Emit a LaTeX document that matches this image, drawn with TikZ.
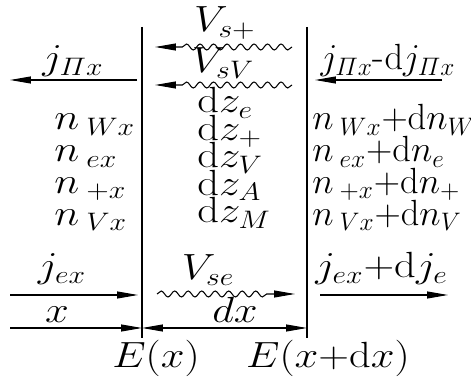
\documentclass[tikz,border=0pt]{standalone}
\usepackage{amsmath}
\usepackage{graphicx}
\usetikzlibrary{arrows.meta,positioning,decorations.pathmorphing}
\DeclareMathSizes{22}{22}{14}{11}
\newcommand{\wideit}[1]{\scalebox{1.17}[1]{#1}}

\begin{document}
\begin{tikzpicture}[
    x=0.02cm, y=-0.02cm,
    font=\fontsize{22}{27}\selectfont,
    lbl/.style={inner sep=0pt, anchor=base},
    colitem/.style={inner sep=0pt, anchor=base west},
    arrow/.style={-{Triangle[length=4.2mm,width=1.4mm]}, semithick},
    wavy/.style={
      arrow,
      decorate,
      decoration={snake, segment length=2.7mm, amplitude=0.6mm, post length=4.4mm}
    },
    frame/.style={semithick}
  ]
    \useasboundingbox (0,0) rectangle (471,378);

    % the two cuts
    \coordinate (lt) at (142,27);
    \coordinate (lb) at (142,338);
    \coordinate (rt) at (307,27);
    \coordinate (rb) at (307,338);
    \draw[frame] (lt) -- (lb);
    \draw[frame] (rt) -- (rb);

    % top fluxes
    \node[lbl] (jpi) at (73,70) {\wideit{$j_{\varPi x}$}};
    \node[lbl] (jpidj) at (388,70) {$j_{\varPi x}\text{-}\mathrm{d}j_{\varPi x}$};
    \node[lbl] (vsp) at (225,32) {\wideit{$V_{s+}$}};
    \node[lbl] (vsv) at (223,73) {\wideit{$V_{sV}$}};

    \coordinate (jpiA) at (137,80);
    \coordinate (jpiB) at (10,80);
    \coordinate (jpidjA) at (442,80);
    \coordinate (jpidjB) at (315,80);
    \coordinate (vspA) at (292,47);
    \coordinate (vspB) at (155,47);
    \coordinate (vsvA) at (292,85);
    \coordinate (vsvB) at (155,85);

    \draw[arrow] (jpiA) -- (jpiB);
    \draw[arrow] (jpidjA) -- (jpidjB);
    \draw[wavy] (vspA) -- (vspB);
    \draw[wavy] (vsvA) -- (vsvB);

    % densities
    \node[colitem] (nw) at (54,130) {\wideit{$n\,{}_{Wx}$}};
    \node[colitem, below=0.634cm of nw.base west, anchor=base west] (ne) {\wideit{$n\,{}_{ex}$}};
    \node[colitem, below=0.634cm of ne.base west, anchor=base west] (np) {\wideit{$n\,{}_{+x}$}};
    \node[colitem, below=0.634cm of np.base west, anchor=base west] (nv) {\wideit{$n\,{}_{Vx}$}};

    \node[colitem] (dze) at (197,113) {\wideit{$\mathrm{d}z_e$}};
    \node[colitem, below=0.55cm of dze.base west, anchor=base west] (dzp) {\wideit{$\mathrm{d}z_+$}};
    \node[colitem, below=0.55cm of dzp.base west, anchor=base west] (dzv) {\wideit{$\mathrm{d}z_V$}};
    \node[colitem, below=0.55cm of dzv.base west, anchor=base west] (dza) {\wideit{$\mathrm{d}z_A$}};
    \node[colitem, below=0.55cm of dza.base west, anchor=base west] (dzm) {\wideit{$\mathrm{d}z_M$}};

    \node[colitem] (dnw) at (312,130) {$n\,{}_{Wx}{+}\mathrm{d}n_W$};
    \node[colitem, below=0.634cm of dnw.base west, anchor=base west] (dne) {$n\,{}_{ex}{+}\mathrm{d}n_e$};
    \node[colitem, below=0.634cm of dne.base west, anchor=base west] (dnp) {$n\,{}_{+x}{+}\mathrm{d}n_+$};
    \node[colitem, below=0.634cm of dnp.base west, anchor=base west] (dnv) {$n\,{}_{Vx}{+}\mathrm{d}n_V$};

    % bottom fluxes
    \node[lbl] (jex) at (62,278) {\wideit{$j_{ex}$}};
    \node[lbl] (vse) at (208,280) {\wideit{$V_{se}$}};
    \node[colitem] (jexdj) at (315,278) {\wideit{$j_{ex}{+}\mathrm{d}j_e$}};

    \coordinate (jexA) at (10,295);
    \coordinate (jexB) at (138,295);
    \coordinate (vseA) at (157,294);
    \coordinate (vseB) at (295,294);
    \coordinate (jexdjA) at (320,295);
    \coordinate (jexdjB) at (448,295);

    \draw[arrow] (jexA) -- (jexB);
    \draw[wavy] (vseA) -- (vseB);
    \draw[arrow] (jexdjA) -- (jexdjB);

    % coordinate axis
    \node[lbl] (xl) at (57,323) {\wideit{$x$}};
    \node[lbl] (dxl) at (235,323) {\wideit{$dx$}};
    \node[lbl] (ex) at (156,368) {\wideit{$E(x)$}};
    \node[lbl] (exdx) at (328,368) {\wideit{$E(x{+}\mathrm{d}x)$}};

    \coordinate (xA) at (10,328);
    \coordinate (xB) at (142,328);
    \coordinate (dxB) at (307,328);

    \draw[arrow] (xA) -- (xB);
    \draw[{Triangle[length=4.2mm,width=1.4mm]}-{Triangle[length=4.2mm,width=1.4mm]}, semithick] (xB) -- (dxB);
  \end{tikzpicture}
\end{document}
